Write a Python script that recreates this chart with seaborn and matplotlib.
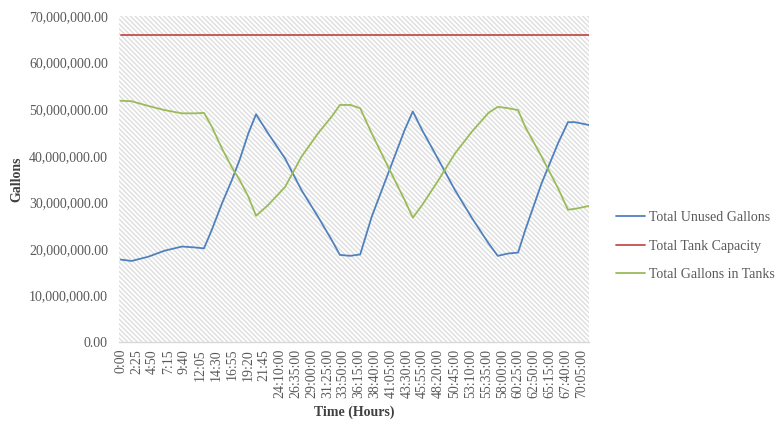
import matplotlib
matplotlib.use("Agg")
import matplotlib.pyplot as plt
import matplotlib.ticker as mticker
import pandas as pd
import seaborn as sns

# Elapsed time (minutes) of each reading
minutes = [0, 100, 250, 400, 560, 680, 760, 830, 925, 1015, 1085, 1165, 1235,
           1345, 1500, 1650, 1800, 1925, 2000, 2095, 2185, 2290, 2440, 2590,
           2665, 2750, 2900, 3050, 3205, 3355, 3440, 3535, 3625, 3690, 3840,
           3990, 4080, 4145, 4270]

# Gallons (millions)
unused_gallons = [17.7, 17.4, 18.3, 19.6, 20.5, 20.3, 20.1, 24.0, 29.8, 34.8,
                  39.1, 44.8, 48.9, 44.8, 39.4, 32.6, 26.9, 21.9, 18.7, 18.5,
                  18.8, 26.9, 36.2, 45.5, 49.5, 45.5, 39.1, 32.6, 26.6, 21.2,
                  18.5, 19.0, 19.2, 24.0, 34.1, 42.7, 47.2, 47.2, 46.6]
gallons_in_tanks = [51.8, 51.7, 50.7, 49.8, 49.1, 49.1, 49.2, 46.3, 41.5, 37.5,
                    34.8, 31.2, 27.1, 29.4, 33.3, 39.8, 44.8, 48.4, 50.9, 50.9,
                    50.2, 44.8, 37.6, 30.5, 26.7, 29.4, 34.8, 40.5, 45.2, 49.2,
                    50.5, 50.2, 49.8, 46.2, 39.8, 33.0, 28.4, 28.6, 29.2]
tank_capacity = 65.9

series_names = ["Total Unused Gallons", "Total Tank Capacity", "Total Gallons in Tanks"]
series_colors = ["#4F81BD", "#C0504D", "#9BBB59"]

tick_labels = ["0:00", "2:25", "4:50", "7:15", "9:40", "12:05", "14:30", "16:55",
               "19:20", "21:45", "24:10:00", "26:35:00", "29:00:00", "31:25:00",
               "33:50:00", "36:15:00", "38:40:00", "41:05:00", "43:30:00",
               "45:55:00", "48:20:00", "50:45:00", "53:10:00", "55:35:00",
               "58:00:00", "60:25:00", "62:50:00", "65:15:00", "67:40:00",
               "70:05:00"]
tick_step_minutes = 145

frames = []
for name, vals in zip(series_names,
                      [unused_gallons, [tank_capacity] * len(minutes), gallons_in_tanks]):
    frames.append(pd.DataFrame({"minutes": minutes,
                                "gallons": [v * 1e6 for v in vals],
                                "series": name}))
df = pd.concat(frames, ignore_index=True)

sns.set_style("white")
plt.rcParams["font.family"] = ["Liberation Serif", "DejaVu Serif"]
plt.rcParams["hatch.linewidth"] = 1.0

fig = plt.figure(figsize=(7.79, 4.24), dpi=100)
ax = fig.add_axes([119 / 779, 1 - 342 / 424, 470 / 779, 326 / 424])

# patterned plot area
ax.patch.set_facecolor("white")
ax.patch.set_hatch("\\" * 7)
ax.patch.set_edgecolor("#dedede")
ax.patch.set_linewidth(0)

sns.lineplot(data=df, x="minutes", y="gallons", hue="series",
             hue_order=series_names, palette=series_colors,
             linewidth=1.3, ax=ax)

ax.set_xlim(-15, 4272)
ax.set_ylim(0, 70e6)
ax.set_yticks([i * 10e6 for i in range(8)])
ax.yaxis.set_major_formatter(mticker.FuncFormatter(lambda v, p: f"{v:,.2f}"))
ax.set_xticks([i * tick_step_minutes for i in range(len(tick_labels))])
ax.set_xticklabels(tick_labels, rotation=90)
ax.tick_params(axis="both", length=0, labelsize=10, labelcolor="#595959")
ax.tick_params(axis="y", pad=8)
ax.tick_params(axis="x", pad=5)

for side in ["left", "right", "top"]:
    ax.spines[side].set_visible(False)
ax.spines["bottom"].set_color("#d9d9d9")
ax.spines["bottom"].set_linewidth(1.0)

ax.set_xlabel("Time (Hours)", fontsize=10, fontweight="bold", color="#404040")
ax.set_ylabel("Gallons", fontsize=10, fontweight="bold", color="#404040")
ax.xaxis.set_label_coords(0.501, -0.196)
ax.yaxis.set_label_coords(-0.204, 0.5)

handles, labels = ax.get_legend_handles_labels()
ax.get_legend().remove()
leg = fig.legend(handles, labels, loc="center left",
                 bbox_to_anchor=(616 / 779, 1 - 246 / 424),
                 frameon=False, fontsize=10, handlelength=2.1,
                 handletextpad=0.3, labelspacing=1.1, borderpad=0,
                 borderaxespad=0)
for t in leg.get_texts():
    t.set_color("#595959")

fig.savefig("out.png", dpi=100)
